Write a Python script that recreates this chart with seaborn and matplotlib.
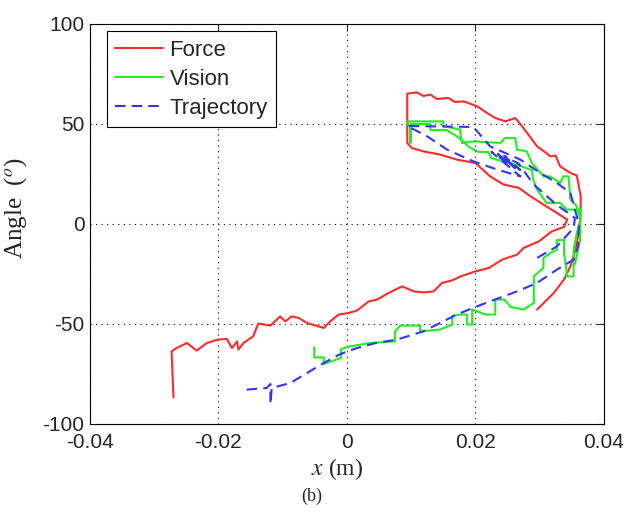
import matplotlib
matplotlib.use('Agg')
import matplotlib.pyplot as plt
import seaborn as sns

# Force sensor estimate (x in m, angle in degrees)
force_x = [-0.0270, -0.0273, -0.0265, -0.0249, -0.0234, -0.0218, -0.0201, -0.0187, -0.0179, -0.0171,
           -0.0169, -0.0161, -0.0146, -0.0138, -0.0119, -0.0104, -0.0096, -0.0086, -0.0075, -0.0062,
           -0.0036, -0.0026, -0.0013, 0.0003, 0.0016, 0.0034, 0.0047, 0.0065, 0.0086, 0.0104,
           0.0119, 0.0135, 0.0148, 0.0164, 0.0177, 0.0200, 0.0221, 0.0242, 0.0265, 0.0275,
           0.0299, 0.0319, 0.0338, 0.0343, 0.0327, 0.0306, 0.0286, 0.0268, 0.0244, 0.0223,
           0.0200, 0.0171, 0.0145, 0.0119, 0.0101, 0.0094, 0.0094, 0.0109, 0.0119, 0.0130,
           0.0140, 0.0158, 0.0168, 0.0182, 0.0203, 0.0218, 0.0231, 0.0247, 0.0262, 0.0270,
           0.0283, 0.0296, 0.0306, 0.0317, 0.0325, 0.0332, 0.0348, 0.0358, 0.0364, 0.0364,
           0.0363, 0.0360, 0.0356, 0.0348, 0.0338, 0.0322, 0.0296]
force_y = [-86.7, -63.7, -62.0, -59.5, -63.3, -59.5, -57.8, -57.5, -62.0, -58.7,
           -62.8, -59.5, -56.2, -49.8, -50.8, -46.2, -48.7, -46.2, -47.0, -49.5,
           -52.0, -48.7, -45.3, -44.5, -43.2, -38.7, -37.8, -34.5, -31.2, -33.7,
           -34.2, -33.7, -29.5, -28.2, -26.2, -23.7, -22.0, -17.8, -15.3, -12.0,
           -8.7, -3.7, -1.5, 2.2, 5.5, 9.7, 13.8, 18.0, 19.7, 23.8,
           30.5, 32.2, 34.7, 36.3, 38.0, 40.5, 65.2, 65.8, 64.0, 64.7,
           62.5, 63.0, 61.0, 61.3, 58.8, 55.5, 53.0, 51.3, 53.0, 50.0,
           44.5, 38.8, 36.5, 33.8, 34.2, 28.8, 25.5, 24.2, 13.8, 8.8,
           2.2, -6.2, -12.8, -21.2, -27.8, -34.5, -42.8]

# Vision estimate (stepped samples)
vision_x = [-0.0051, -0.0051, -0.0036, -0.0036, -0.0009, -0.0009, 0.0005, 0.0036, 0.0075, 0.0075,
            0.0083, 0.0114, 0.0114, 0.0145, 0.0160, 0.0164, 0.0164, 0.0177, 0.0187, 0.0187,
            0.0195, 0.0195, 0.0216, 0.0231, 0.0231, 0.0245, 0.0255, 0.0275, 0.0291, 0.0291,
            0.0306, 0.0306, 0.0317, 0.0327, 0.0327, 0.0338, 0.0338, 0.0343, 0.0353, 0.0353,
            0.0358, 0.0364, 0.0364, 0.0342, 0.0332, 0.0311, 0.0296, 0.0290, 0.0288, 0.0270,
            0.0245, 0.0225, 0.0220, 0.0205, 0.0190, 0.0175, 0.0155, 0.0130, 0.0130, 0.0099,
            0.0099, 0.0099, 0.0093, 0.0150, 0.0150, 0.0176, 0.0179, 0.0197, 0.0239, 0.0246,
            0.0262, 0.0265, 0.0280, 0.0288, 0.0306, 0.0316, 0.0332, 0.0337, 0.0345, 0.0348,
            0.0358, 0.0363, 0.0363, 0.0355]
vision_y = [-61.7, -66.7, -66.7, -70.0, -67.0, -62.5, -61.2, -59.5, -58.7, -53.7,
            -50.8, -50.8, -53.7, -52.8, -50.8, -50.3, -46.0, -45.3, -45.3, -50.3,
            -50.3, -42.8, -45.3, -45.3, -37.8, -37.8, -41.5, -42.8, -39.5, -26.2,
            -22.0, -17.0, -14.5, -12.8, -8.0, -8.0, -14.5, -26.2, -26.2, -12.8,
            -4.5, 2.0, 7.2, 7.2, 10.5, 10.5, 17.2, 22.2, 27.0, 29.0,
            31.0, 33.0, 36.0, 36.0, 38.5, 43.0, 47.0, 47.0, 50.0, 50.0,
            40.5, 48.0, 51.3, 51.3, 49.0, 47.2, 40.5, 41.3, 40.5, 43.0,
            43.0, 37.2, 36.3, 30.5, 23.8, 23.8, 20.5, 23.8, 23.8, 12.2,
            8.8, 2.2, -8.0, -20.0]

# Reference trajectory
traj_x = [-0.0156, -0.0125, -0.0119, -0.0119, -0.0117, -0.0088, -0.0062, -0.0036, -0.0010, 0.0016,
          0.0045, 0.0078, 0.0119, 0.0145, 0.0171, 0.0200, 0.0223, 0.0265, 0.0296, 0.0327,
          0.0353, 0.0360, 0.0361, 0.0358, 0.0348, 0.0327, 0.0301, 0.0270, 0.0223, 0.0197,
          0.0094, 0.0125, 0.0156, 0.0197, 0.0234, 0.0270, 0.0225, 0.0262, 0.0235, 0.0270,
          0.0245, 0.0268, 0.0290, 0.0325, 0.0355, 0.0353, 0.0327, 0.0296]
traj_y = [-82.8, -82.0, -80.0, -90.0, -82.0, -79.5, -74.5, -69.5, -65.0, -62.0,
          -59.5, -57.8, -53.7, -49.5, -45.3, -41.5, -38.7, -33.7, -29.5, -22.8,
          -17.8, -11.2, -1.2, 3.8, 15.5, 20.5, 25.5, 32.2, 38.8, 48.5,
          49.0, 43.8, 37.2, 31.3, 27.2, 23.8, 36.0, 28.0, 35.0, 27.0,
          34.0, 30.0, 20.0, 10.0, 3.0, -2.0, -11.2, -17.0]

sns.set_style('white')
plt.rcParams['font.family'] = ['Liberation Sans', 'DejaVu Sans']
plt.rcParams['mathtext.fontset'] = 'stix'
plt.rcParams['axes.unicode_minus'] = False

fig = plt.figure(figsize=(6.27, 5.08), dpi=100)
ax = fig.add_axes([0.1435, 0.1654, 0.8195, 0.7874])

sns.lineplot(x=force_x, y=force_y, sort=False, estimator=None, color='#ff2a2a', lw=1.5, label='Force', ax=ax)
sns.lineplot(x=vision_x, y=vision_y, sort=False, estimator=None, color='#22ee22', lw=1.5, label='Vision', ax=ax)
sns.lineplot(x=traj_x, y=traj_y, sort=False, estimator=None, color='#3333ff', lw=1.5, label='Trajectory', ax=ax)
ax.lines[2].set_dashes([5, 3])

ax.set_xlim(-0.04, 0.04)
ax.set_ylim(-100, 100)
ax.set_xticks([-0.04, -0.02, 0, 0.02, 0.04])
ax.set_xticklabels(['-0.04', '-0.02', '0', '0.02', '0.04'])
ax.set_yticks([-100, -50, 0, 50, 100])
ax.tick_params(direction='in', length=5, width=0.8, top=True, right=True, labelsize=15, pad=4)
ax.tick_params(axis='x', pad=6.5)
ax.grid(True, color='black', linestyle=(0, (1, 4)), linewidth=0.8)
for s in ax.spines.values():
    s.set_color('black')
    s.set_linewidth(0.8)

ax.set_xlabel(r'$x$ (m)', family='Liberation Serif', fontsize=17)
ax.xaxis.set_label_coords(0.48, -0.08)
ax.set_ylabel(r'Angle  ($^o$)', family='Liberation Serif', fontsize=18)
ax.yaxis.set_label_coords(-0.118, 0.54)

leg = ax.legend(loc='upper left', bbox_to_anchor=(0.0325, 0.982), borderaxespad=0, fontsize=16,
                frameon=True, fancybox=False, framealpha=1, edgecolor='black',
                handlelength=2.15, handletextpad=0.3, labelspacing=0.36, borderpad=0.38)
leg.get_frame().set_linewidth(0.8)

fig.text(0.497, 0.022, '(b)', family='Liberation Serif', fontsize=13, ha='center', va='center')

fig.savefig('out.png', dpi=100)
